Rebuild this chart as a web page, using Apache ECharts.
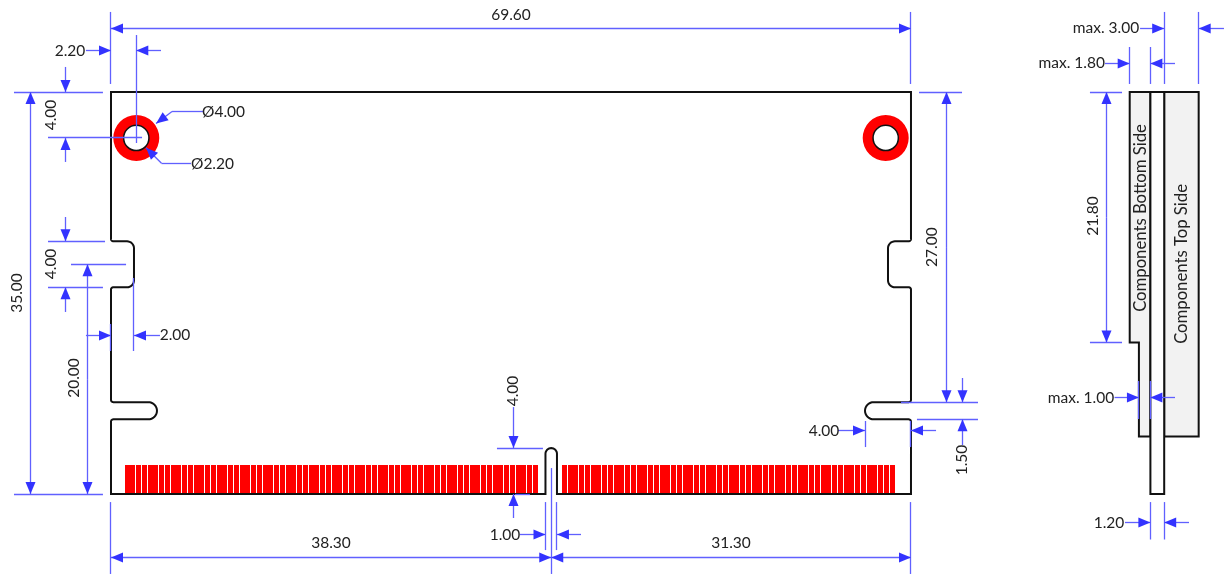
<!DOCTYPE html>
<html>
<head>
<meta charset="utf-8">
<style>html,body{margin:0;padding:0;background:#fff}#c{width:1226px;height:575px}</style>
<script src="https://cdn.jsdelivr.net/npm/echarts@6/dist/echarts.min.js"></script>
</head>
<body>
<div id="c"></div>
<script>
// All geometry in millimetres on the drawing (x right from board edge, y down from board top)
const xRange = [-9.657, 97.007];
const yRange = [-8.01, 42.05];

// outlines: [x, y, cornerRadius]
const boardOutline = [
  [0,0,0],[69.6,0,0],[69.6,13,0.2],[67.6,13,0.6],[67.6,17,0.6],[69.6,17,0.2],
  [69.6,27,0.2],[65.6,27,0.75],[65.6,28.5,0.75],[69.6,28.5,0.2],[69.6,35,0],
  [38.8,35,0],[38.8,31,0.5],[37.8,31,0.5],[37.8,35,0],[0,35,0],
  [0,28.5,0.2],[4,28.5,0.75],[4,27,0.75],[0,27,0.2],[0,17,0.2],[2,17,0.6],[2,13,0.6],[0,13,0.2]
];
const bottomComponents = [[88.63,0,0],[90.43,0,0],[90.43,30,0],[89.43,30,0],[89.43,21.8,0],[88.63,21.8,0]];
const topComponents = [[91.63,0,0],[94.63,0,0],[94.63,30,0],[91.63,30,0]];
const pcbEdge = [[90.43,0,0],[91.63,0,0],[91.63,35,0],[90.43,35,0]];

const holes = [[2.2,4],[67.4,4]];
const holeOuterDiameter = 4.0;
const holeInnerDiameter = 2.2;

const padTop = 32.46, padBottom = 34.9, padGap = 0.087;
const leftPadStart = 1.218, rightPadStart = 39.24;
const leftPadWidths = [
  .87,.435,.435,.87,.435,.435,.87,.435,.435,.87,.435,.435,.87,.435,.435,.87,.435,.435,
  .87,.435,.435,.87,.435,.435,.87,.435,.435,.87,.435,.435,.87,.435,.435,.87,.435,.435,
  .87,.435,.435,.87,.435,.435,.87,.435,.435,.87,.435,.435,.87,.435,.435,.87,.435,.435
];
const rightPadWidths = [
  .435,.87,.435,.435,.87,.435,.435,.87,.435,.435,.87,.435,.435,.87,.435,.435,.87,.435,.435,
  .87,.435,.435,.87,.435,.435,.87,.435,.435,.87,.435,.435,.87,.435,.435,.87,.435,.435,
  .87,.435,.435,.87,.435,.435,.435
];

// extension and centre lines: [x1, y1, x2, y2]
const extensionLines = [
  [0,-6.97,0,-0.7],[69.6,-6.97,69.6,-0.7],
  [2.2,-4.96,2.2,4.44],[-5.48,4,2.7,4],[-8.44,0,-0.7,0],
  [-5.48,13,-0.52,13],[-5.48,17,-0.7,17],[-3.48,15,1.31,15],[-8.44,35,-0.7,35],
  [2,16.19,2,22.55],[0,20.2,0,22.55],
  [0,35.7,0,41.96],[69.6,35.7,69.6,41.96],[38.3,32.74,38.3,41.96],
  [37.8,35.7,37.8,39.88],[38.8,35.7,38.8,39.88],
  [33.58,31,37.58,31],[35.15,35,36.45,35],
  [70.3,0,74.04,0],[68.73,27,75.43,27],[70.12,28.5,75.43,28.5],
  [65.6,28.64,65.6,30.91],[69.6,28.64,69.6,30.91],
  [91.63,-6.97,91.63,-0.7],[94.63,-6.97,94.63,-0.7],
  [88.63,-3.92,88.63,-0.7],[90.43,-3.92,90.43,-0.7],
  [85.17,0,87.96,0],[85.17,21.8,87.96,21.8],
  [89.43,25.16,89.43,28.47],[90.43,25.16,90.43,28.47],
  [90.43,35.7,90.43,38.96],[91.63,35.7,91.63,38.96]
];

// leader polylines without arrowhead: [x1, y1, x2, y2]
const leaderLines = [[8,1.7,5.31,1.7],[6.96,6.2,4.39,6.2]];

// arrows with shaft: [tipX, tipY, tailX, tailY]
const arrows = [
  [0,-5.57,34.8,-5.57],[69.6,-5.57,34.8,-5.57],
  [0,-3.57,-2.18,-3.57],[2.2,-3.57,4.35,-3.57],
  [-7.0,0,-7.0,17.5],[-7.0,35,-7.0,17.5],
  [-4,0,-4,-2.18],[-4,4,-4,6.09],
  [3.92,2.75,5.31,1.7],[3.05,4.85,4.39,6.2],
  [-4,13,-4,10.88],[-4,17,-4,19.15],
  [-2.03,15,-2.03,25],[-2.03,35,-2.03,25],
  [0,21.16,-2.18,21.16],[2,21.16,4.26,21.16],
  [0,40.53,19.14,40.53],[38.3,40.53,19.14,40.53],
  [38.3,40.53,53.94,40.53],[69.6,40.53,53.94,40.53],
  [37.8,38.53,35.58,38.53],[38.8,38.53,40.89,38.53],
  [35,31,35,27.43],[35,35,35,37.09],
  [72.65,0,72.65,13.5],[72.65,27,72.65,13.5],
  [74.04,27,74.04,24.9],[74.04,28.5,74.04,30.73],
  [65.6,29.51,63.25,29.51],[69.6,29.51,71.78,29.51],
  [91.63,-5.57,89.53,-5.57],[94.63,-5.57,96.83,-5.57],
  [88.63,-2.52,86.48,-2.52],[90.43,-2.52,92.57,-2.52],
  [86.65,0,86.65,10.9],[86.65,21.8,86.65,10.9],
  [89.43,26.64,87.31,26.64],[90.43,26.64,92.57,26.64],
  [90.43,37.52,88.22,37.52],[91.63,37.52,93.79,37.52]
];

const labelTexts = [
  '69.60','2.20','35.00','4.00','Ø4.00','Ø2.20','4.00','20.00','2.00','38.30','31.30','1.00','4.00',
  '27.00','1.50','4.00','max. 3.00','max. 1.80','21.80','max. 1.00','1.20',
  'Components Bottom Side','Components Top Side'
];
const labelX = [34.8,-3.57,-8.18,-5.22,9.79,8.83,-5.22,-3.22,5.57,19.14,53.94,34.28,34.98,
  71.43,74.04,62.03,86.57,83.58,85.44,84.39,86.83,89.61,93.18];
const labelY = [-6.7,-3.57,17.5,2,1.74,6.27,14.97,24.9,21.16,39.27,39.27,38.57,26.03,
  13.5,32.04,29.51,-5.57,-2.52,10.8,26.64,37.52,10.97,14.97];
const labelVertical = [0,0,1,1,0,0,1,1,0,0,0,0,1,1,1,0,0,0,1,0,0,1,1];

const BLUE_LINE = '#6060ff', BLUE_HEAD = '#3333ff', BLACK = '#111111', RED = '#ff0000', GREY = '#f2f2f2', TEXT = '#222222';
const FONT = '15.5px Lato, "Open Sans", sans-serif';
const FONT_LONG = '16.7px Lato, "Open Sans", sans-serif';

function snap(v){ return Math.floor(v) + 0.5; }

function roundedPoints(vertices, api){
  const P = vertices.map(v => { const c = api.coord([v[0],v[1]]); return [c[0],c[1],v[2]*api.size([1,1])[0]]; });
  const out = [], n = P.length;
  for (let i=0;i<n;i++){
    const p=P[i], a=P[(i+n-1)%n], b=P[(i+1)%n], r=p[2];
    if(!r){ out.push([p[0],p[1]]); continue; }
    const la=Math.hypot(a[0]-p[0],a[1]-p[1]), lb=Math.hypot(b[0]-p[0],b[1]-p[1]);
    const s=[p[0]+(a[0]-p[0])/la*r,p[1]+(a[1]-p[1])/la*r], e=[p[0]+(b[0]-p[0])/lb*r,p[1]+(b[1]-p[1])/lb*r];
    for(let k=0;k<=8;k++){
      const t=k/8,u=1-t;
      const w=0.7071;
      const d=u*u+2*u*t*w+t*t;
      out.push([(u*u*s[0]+2*u*t*w*p[0]+t*t*e[0])/d,(u*u*s[1]+2*u*t*w*p[1]+t*t*e[1])/d]);
    }
  }
  return out;
}

function outlineSeries(list, z){
  return {
    type:'custom', coordinateSystem:'cartesian2d', z, silent:true, animation:false, clip:false,
    data:list.map((o,i)=>[o.shape[0][0],o.shape[0][1],i]),
    renderItem:(params,api)=>{
      const o=list[params.dataIndex];
      return {type:'polygon',shape:{points:roundedPoints(o.shape,api)},
        style:{fill:o.fill,stroke:BLACK,lineWidth:2,lineJoin:'miter'}};
    }
  };
}

function padData(start,widths){
  const rows=[]; let x=start;
  widths.forEach(w=>{ rows.push([x,padTop,x+w,padBottom]); x+=w+padGap; });
  return rows;
}

const segmentSeries = {
  type:'custom', coordinateSystem:'cartesian2d', z:5, silent:true, animation:false, clip:false,
  data:extensionLines.concat(leaderLines),
  renderItem:(params,api)=>{
    const a=api.coord([api.value(0),api.value(1)]), b=api.coord([api.value(2),api.value(3)]);
    let s=[a[0],a[1]], e=[b[0],b[1]];
    if(api.value(0)===api.value(2)){ s[0]=e[0]=snap(a[0]); }
    if(api.value(1)===api.value(3)){ s[1]=e[1]=snap(a[1]); }
    return {type:'line',shape:{x1:s[0],y1:s[1],x2:e[0],y2:e[1]},style:{stroke:BLUE_LINE,lineWidth:1.3,fill:null}};
  }
};

const arrowSeries = {
  type:'custom', coordinateSystem:'cartesian2d', z:6, silent:true, animation:false, clip:false,
  data:arrows,
  renderItem:(params,api)=>{
    const tip=api.coord([api.value(0),api.value(1)]), tail=api.coord([api.value(2),api.value(3)]);
    let t=[tip[0],tip[1]], q=[tail[0],tail[1]];
    if(api.value(0)===api.value(2)){ t[0]=q[0]=snap(tip[0]); }
    if(api.value(1)===api.value(3)){ t[1]=q[1]=snap(tip[1]); }
    const L=Math.hypot(q[0]-t[0],q[1]-t[1]), ux=(q[0]-t[0])/L, uy=(q[1]-t[1])/L, len=12, hw=5;
    const bx=t[0]+ux*len, by=t[1]+uy*len;
    return {type:'group',children:[
      {type:'line',shape:{x1:t[0],y1:t[1],x2:q[0],y2:q[1]},style:{stroke:BLUE_LINE,lineWidth:1.3,fill:null}},
      {type:'polygon',shape:{points:[[t[0],t[1]],[bx-uy*hw,by+ux*hw],[bx+uy*hw,by-ux*hw]]},style:{fill:BLUE_HEAD,stroke:null}}
    ]};
  }
};

const option = {
  animation:false,
  backgroundColor:'#ffffff',
  grid:{left:0,right:0,top:0,bottom:0,containLabel:false},
  xAxis:{type:'value',min:xRange[0],max:xRange[1],show:false},
  yAxis:{type:'value',min:yRange[0],max:yRange[1],inverse:true,show:false},
  tooltip:{show:false},
  series:[
    outlineSeries([
      {shape:boardOutline,fill:'#ffffff'},
      {shape:bottomComponents,fill:GREY},
      {shape:topComponents,fill:GREY},
      {shape:pcbEdge,fill:'#ffffff'}
    ],1),
    {
      type:'custom', coordinateSystem:'cartesian2d', z:2, silent:true, animation:false, clip:false,
      data:padData(leftPadStart,leftPadWidths).concat(padData(rightPadStart,rightPadWidths)),
      renderItem:(params,api)=>{
        const a=api.coord([api.value(0),api.value(1)]), b=api.coord([api.value(2),api.value(3)]);
        const x=Math.round(a[0]), y=Math.round(a[1]);
        return {type:'rect',shape:{x,y,width:Math.round(b[0])-x,height:Math.round(b[1])-y},style:{fill:RED}};
      }
    },
    {
      type:'custom', coordinateSystem:'cartesian2d', z:3, silent:true, animation:false, clip:false,
      data:holes,
      renderItem:(params,api)=>{
        const c=api.coord([api.value(0),api.value(1)]), k=api.size([1,1])[0];
        return {type:'group',children:[
          {type:'circle',shape:{cx:c[0],cy:c[1],r:holeOuterDiameter/2*k},style:{fill:RED}},
          {type:'circle',shape:{cx:c[0],cy:c[1],r:holeInnerDiameter/2*k},style:{fill:'#ffffff',stroke:BLACK,lineWidth:1.5}}
        ]};
      }
    },
    segmentSeries,
    arrowSeries,
    {
      type:'custom', coordinateSystem:'cartesian2d', z:7, silent:true, animation:false, clip:false,
      data:labelX.map((x,i)=>[x,labelY[i]]),
      renderItem:(params,api)=>{
        const i=params.dataIndex, c=api.coord([api.value(0),api.value(1)]);
        return {type:'text',x:c[0],y:c[1],rotation:labelVertical[i]?Math.PI/2:0,
          style:{text:labelTexts[i],fill:TEXT,font:labelTexts[i].length>12?FONT_LONG:FONT,align:'center',verticalAlign:'middle'}};
      }
    }
  ]
};
const chart = echarts.init(document.getElementById('c'),null,{renderer:'canvas'});
chart.setOption(option);
</script>
</body>
</html>
